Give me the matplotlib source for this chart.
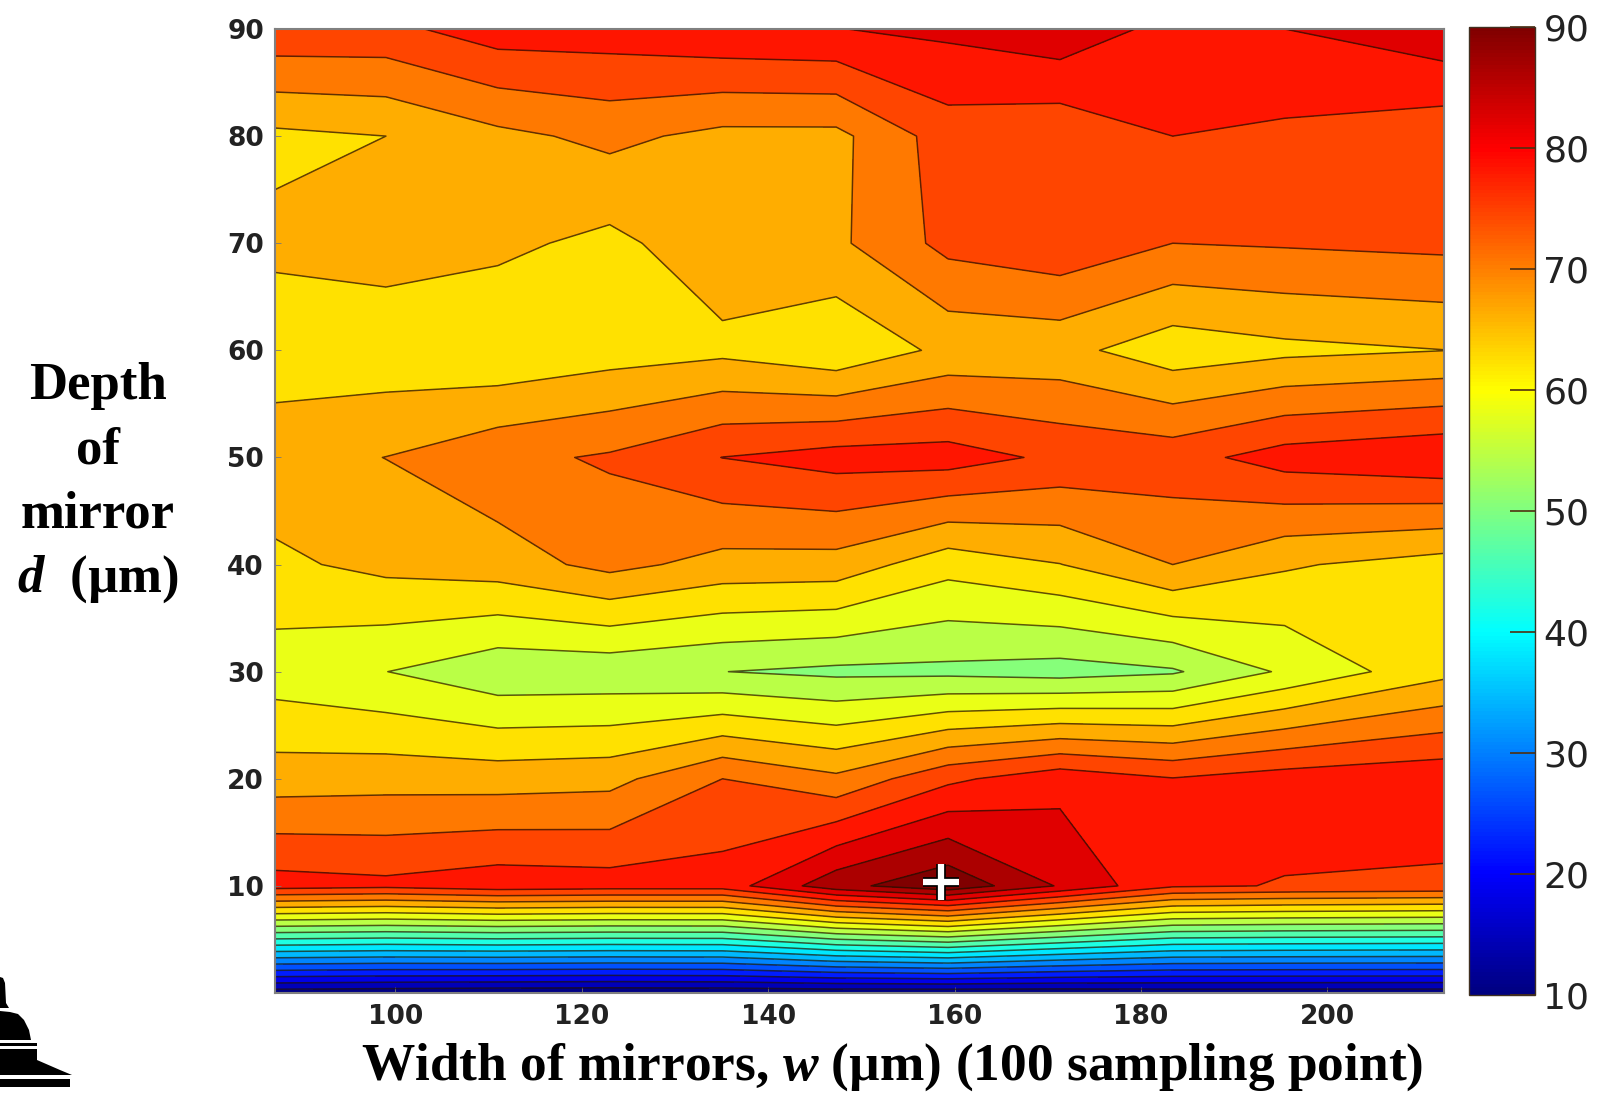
import numpy as np
import matplotlib
matplotlib.use("Agg")
import matplotlib.pyplot as plt
from matplotlib.patches import Polygon
from matplotlib.colors import Normalize, LinearSegmentedColormap
from matplotlib.cm import ScalarMappable
import matplotlib.patheffects as pe

plt.rcParams['mathtext.fontset'] = 'custom'
plt.rcParams['mathtext.rm'] = 'Liberation Serif:bold'
plt.rcParams['mathtext.it'] = 'Liberation Serif:bold:italic'
plt.rcParams['mathtext.bf'] = 'Liberation Serif:bold'

# ---------- data ----------
width_um = [87.1, 99.0, 111.0, 123.0, 135.1, 147.3, 159.3, 171.3, 183.4, 195.4, 212.5]
depth_um = [0, 10, 20, 30, 40, 50, 60, 70, 80, 90]

row_00 = [10.0, 9.6, 9.2, 9.0, 9.2, 9.5, 9.5, 9.5, 10.0, 10.0, 10.0]
row_10 = [78.1, 77.4, 78.8, 78.3, 78.3, 87.0, 91.5, 84.0, 77.0, 76.2, 75.6]
row_20 = [66.4, 66.8, 66.6, 67.1, 72.4, 69.3, 75.5, 79.0, 76.6, 78.3, 79.4]
row_30 = [58.3, 56.45, 53.5, 53.6, 52.45, 51.5, 51.4, 50.7, 51.9, 57.0, 63.25]
row_40 = [63.6, 65.5, 66.5, 69.6, 67.0, 66.8, 61.9, 64.3, 68.4, 64.9, 62.6]
row_50 = [66.9, 68.45, 71.3, 72.9, 76.45, 78.1, 78.3, 75.5, 74.8, 78.2, 79.8]
row_60 = [62.0, 61.8, 61.0, 62.5, 63.4, 61.2, 65.4, 65.7, 62.0, 63.4, 64.35]
row_70 = [65.3, 66.2, 65.3, 63.35, 67.0, 67.6, 73.6, 75.3, 72.4, 72.8, 73.4]
row_80 = [63.5, 64.4, 67.4, 69.4, 67.3, 67.3, 74.4, 73.4, 76.4, 75.6, 73.7]
row_90 = [75.4, 75.3, 78.5, 78.5, 79.8, 80.3, 81.3, 83.2, 79.0, 80.4, 83.3]

contour_levels = [8.4 + 4 * k for k in range(22)]
x_ticks = [100, 120, 140, 160, 180, 200]
y_ticks = [10, 20, 30, 40, 50, 60, 70, 80, 90]
cbar_ticks = [10, 20, 30, 40, 50, 60, 70, 80, 90]
cursor_point = (158.5, 10.4)

# ---------- layout ----------
W, H = 1612, 1094
fig = plt.figure(figsize=(W / 100, H / 100), dpi=100, facecolor='white')


def box(l, t, r, b):
    return [l / W, 1 - b / H, (r - l) / W, (b - t) / H]


# the classic jet ramp, reaching pure red and yellow at the reference's positions
jet_classic = LinearSegmentedColormap.from_list('jet_classic', [
    (0.0, (0, 0, 0.5)), (0.125, (0, 0, 1)), (0.375, (0, 1, 1)),
    (0.625, (1, 1, 0)), (0.875, (1, 0, 0)), (1.0, (0.5, 0, 0))], N=256)

ax = fig.add_axes(box(275, 29, 1444, 993))
Z = np.array([row_00, row_10, row_20, row_30, row_40, row_50,
              row_60, row_70, row_80, row_90])
norm = Normalize(10, 90)
ax.contourf(width_um, depth_um, Z, levels=contour_levels, cmap=jet_classic, norm=norm)
ax.contour(width_um, depth_um, Z, levels=contour_levels, colors='#201000',
           linewidths=1.1, alpha=0.7)
ax.set_xlim(87.1, 212.5)
ax.set_ylim(0, 90)
ax.set_xticks(x_ticks)
ax.set_yticks(y_ticks)
ax.tick_params(axis='both', direction='in', length=4, width=0.6, color='#777777',
               labelsize=19, labelcolor='#222222', pad=8)
for lab in ax.get_xticklabels() + ax.get_yticklabels():
    lab.set_fontweight('bold')
    lab.set_family('DejaVu Sans')
for s in ax.spines.values():
    s.set_color('#808080')
    s.set_linewidth(1.5)

# cursor cross
cx, cy = cursor_point
ax.plot([cx], [cy], marker='+', ms=26, mew=4.5, color='white', zorder=6,
        path_effects=[pe.withStroke(linewidth=7, foreground='black')])

# colour bar
cax = fig.add_axes(box(1469, 27, 1535, 995))
cb = fig.colorbar(ScalarMappable(norm=norm, cmap=jet_classic), cax=cax, ticks=cbar_ticks)
cb.outline.set_edgecolor('#403020')
cb.outline.set_linewidth(1.0)
cax.tick_params(axis='y', direction='in', length=18, width=1.2, color='#503010',
                labelsize=26, labelcolor='#222222', pad=6)
for lab in cax.get_yticklabels():
    lab.set_family('DejaVu Sans')

# titles
serif = 'Liberation Serif'
fig.text(892 / W, 1 - 1067 / H, r'Width of mirrors, $\mathit{w}$ (µm) (100 sampling point)',
         ha='center', va='center', family=serif, weight='bold', fontsize=38.4)
for txt, py in [('Depth', 386), ('of', 450), ('mirror', 514), (r'$\mathit{d}$  (µm)', 579)]:
    fig.text(98 / W, 1 - py / H, txt, ha='center', va='center', family=serif,
             weight='bold', fontsize=38)

# emblem in the bottom-left corner
emblem = [
    [(0, 977), (3, 978), (5, 983), (6, 1003), (9, 1008), (0, 1008)],
    [(0, 1011), (10, 1012), (18, 1014), (24, 1020), (29, 1030), (31, 1040), (0, 1040)],
    [(0, 1043), (37, 1043), (37, 1046), (0, 1046)],
    [(0, 1049), (37, 1049), (37, 1060), (60, 1070), (72, 1075), (0, 1075)],
    [(0, 1079), (70, 1079), (70, 1087), (0, 1087)],
]
for pts in emblem:
    fig.add_artist(Polygon([(x / W, 1 - y / H) for x, y in pts], closed=True,
                           transform=fig.transFigure, facecolor='black', edgecolor='none'))

fig.savefig('out.png', dpi=100)
